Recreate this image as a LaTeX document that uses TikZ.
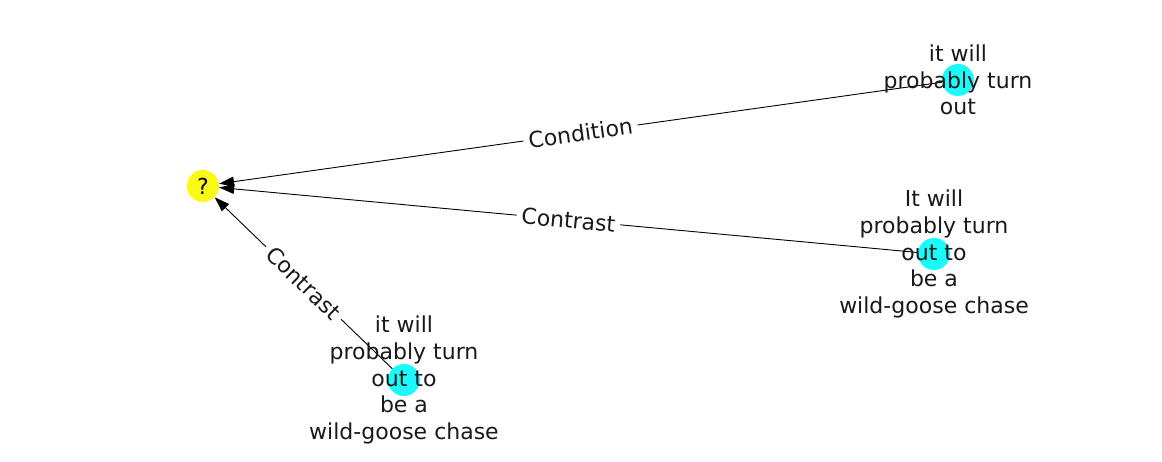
\documentclass[tikz,border=0pt]{standalone}
\usepackage{fontspec}
\setmainfont{DejaVu Sans}
\usetikzlibrary{arrows.meta}
\definecolor{nodecyan}{RGB}{26,250,250}
\definecolor{nodeyellow}{RGB}{250,250,20}
\begin{document}
\begin{tikzpicture}[x=1pt, y=-1pt, font=\fontsize{22}{26.75}\selectfont,
  dot/.style={circle, minimum size=32pt, inner sep=0pt},
  txt/.style={align=center, text=black!90},
  rel/.style={-{Triangle[length=15pt,width=10pt]}, line width=0.9pt},
  lab/.style={sloped, fill=white, inner sep=5pt, text=black!90}]
\useasboundingbox (0,0) rectangle (1162,462);
\node[dot, fill=nodeyellow] (q) at (203,186){?};
\node[dot, fill=nodecyan] (n0) at (958,80){};
\node[dot, fill=nodecyan] (n1) at (934,254){};
\node[dot, fill=nodecyan] (n2) at (404,380){};
\draw[rel](n0) -- node[lab]{Condition} (q);
\draw[rel](n1) -- node[lab]{Contrast} (q);
\draw[rel](n2) -- node[lab]{Contrast} (q);
\node[txt] (t0) at (n0.center){it will\\probably turn\\out};
\node[txt] (t1) at (n1.center){It will\\probably turn\\out to\\be a\\wild-goose chase};
\node[txt] (t2) at (n2.center){it will\\probably turn\\out to\\be a\\wild-goose chase};
\end{tikzpicture}
\end{document}
